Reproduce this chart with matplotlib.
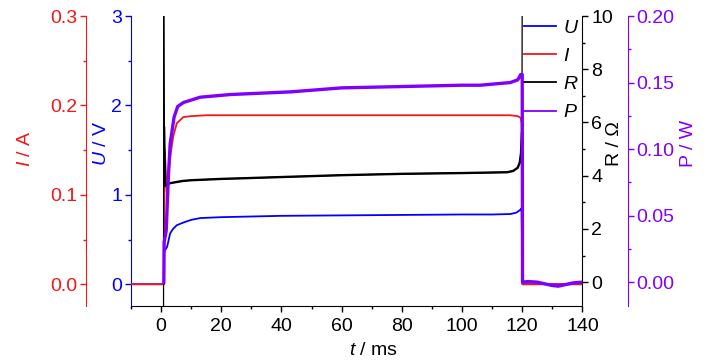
# U, I, R, P vs time for a pulse (0 to 120 ms)

import matplotlib
matplotlib.use("Agg")
import matplotlib.pyplot as plt
from matplotlib.lines import Line2D
from matplotlib.ticker import MultipleLocator

plt.rcParams['font.family'] = ['Liberation Sans', 'DejaVu Sans']
plt.rcParams['mathtext.fontset'] = 'custom'
plt.rcParams['mathtext.it'] = 'Liberation Sans:italic'
plt.rcParams['mathtext.rm'] = 'Liberation Sans'

# data
t_U = [-10, 0.9, 1.0, 1.3, 2, 3, 4, 5.2, 7.4, 10, 13, 20, 40, 60, 80, 100, 110, 116, 118, 119.3, 119.8, 120.1, 140]
U = [0, 0, 0.36, 0.38, 0.42, 0.57, 0.62, 0.66, 0.69, 0.72, 0.74, 0.75, 0.765, 0.77, 0.775, 0.78, 0.78, 0.785, 0.80, 0.83, 0.85, 0, 0]

t_I = [-10, 0.9, 1.2, 1.9, 3.0, 4, 5.2, 7.4, 10, 15, 40, 80, 116, 118.5, 119.5, 119.8, 120.1, 140]
I = [0, 0, 0.15, 0.103, 0.142, 0.165, 0.18, 0.187, 0.188, 0.189, 0.189, 0.189, 0.189, 0.188, 0.186, 0.18, 0, 0]

t_R = [0.8, 0.85, 1.0, 1.3, 2, 3, 7, 10, 20, 26, 40, 60, 80, 100, 110, 115, 117, 118.5, 119.2, 119.6, 119.9, 120]
R = [-1.5, 11, 5.8, 3.62, 3.68, 3.72, 3.8, 3.83, 3.88, 3.9, 3.95, 4.02, 4.07, 4.1, 4.12, 4.13, 4.18, 4.3, 4.5, 4.85, 5.6, 11]

t_P = [0.9, 1.0, 1.7, 2.4, 3, 4.3, 5.5, 7.4, 13, 23, 43, 60, 80, 100, 106, 116, 118.5, 119.5, 120, 120.1,
       122, 125, 128, 130, 132, 134, 137, 140]
P = [0, 0.03, 0.039, 0.079, 0.104, 0.124, 0.132, 0.135, 0.139, 0.141, 0.143, 0.146, 0.147, 0.148, 0.148, 0.150, 0.152, 0.156, 0.156, 0,
     0.0005, 0.0, -0.0015, -0.0025, -0.003, -0.002, -0.0005, 0]

red = '#f01818'
blue = '#0000ff'
purple = '#8000ff'

fig = plt.figure(figsize=(7.28, 3.64), dpi=100)
ax = fig.add_axes([0.180, 0.159, 0.620, 0.797])   # U axis + time axis
axI = ax.twinx()
axR = ax.twinx()
axP = ax.twinx()

ax.plot(t_U, U, color=blue, lw=1.3)
axI.plot(t_I, I, color=red, lw=1.3)
# the spikes of R at switching are thin, the rest thicker
axR.plot(t_R, R, color='black', lw=0.9)
axR.plot(t_R[2:-1], R[2:-1], color='black', lw=1.7)
axP.plot(t_P, P, color=purple, lw=2.4)

ax.set_xlim(-10, 140)
ax.set_ylim(-0.245, 3)
axI.set_ylim(-0.0245, 0.3)
axR.set_ylim(-0.9, 10)
axP.set_ylim(-0.018, 0.2)

fs = 14

# left side axes
ax.spines['top'].set_visible(False)
ax.spines['right'].set_visible(False)
ax.spines['left'].set_color(blue)
ax.yaxis.set_major_locator(MultipleLocator(1))
ax.yaxis.set_minor_locator(MultipleLocator(0.5))
ax.tick_params(axis='y', which='both', colors=blue, labelsize=fs, pad=2)

axI.spines['left'].set_position(('axes', -0.1))
axI.spines['left'].set_visible(True)
axI.spines['left'].set_color(red)
for s in ['top', 'right', 'bottom']:
    axI.spines[s].set_visible(False)
axI.yaxis.set_ticks_position('left')
axI.yaxis.set_label_position('left')
axI.yaxis.set_major_locator(MultipleLocator(0.1))
axI.yaxis.set_minor_locator(MultipleLocator(0.05))
axI.yaxis.set_major_formatter(lambda v, p: f"{v:.1f}")
axI.tick_params(axis='y', which='both', colors=red, labelsize=fs, pad=2)

# right side axes
for s in ['top', 'left', 'bottom']:
    axR.spines[s].set_visible(False)
axR.yaxis.set_major_locator(MultipleLocator(2))
axR.yaxis.set_minor_locator(MultipleLocator(1))
axR.tick_params(axis='y', which='both', colors='black', labelsize=fs, pad=2)

axP.spines['right'].set_position(('axes', 1.1))
axP.spines['right'].set_color(purple)
for s in ['top', 'left', 'bottom']:
    axP.spines[s].set_visible(False)
axP.yaxis.set_major_locator(MultipleLocator(0.05))
axP.yaxis.set_minor_locator(MultipleLocator(0.025))
axP.yaxis.set_major_formatter(lambda v, p: f"{v:.2f}")
axP.tick_params(axis='y', which='both', colors=purple, labelsize=fs, pad=2)

# time axis
ax.xaxis.set_major_locator(MultipleLocator(20))
ax.xaxis.set_minor_locator(MultipleLocator(10))
ax.tick_params(axis='x', which='both', labelsize=fs, pad=4)
for a in [ax, axI, axR, axP]:
    a.tick_params(which='major', length=4.5, width=1)
    a.tick_params(which='minor', length=2.5, width=1)

# axis labels
ax.set_xlabel(r"$t$ / ms", fontsize=fs)
ax.xaxis.set_label_coords(0.537, -0.152)
ax.xaxis.label.set_va('center')

ax.set_ylabel(r"$U$ / V", fontsize=fs, color=blue)
axI.set_ylabel(r"$I$ / A", fontsize=fs, color=red)
axR.set_ylabel("R / Ω", fontsize=fs, color='black', rotation=90)
axP.set_ylabel("P / W", fontsize=fs, color=purple, rotation=90)
ax.yaxis.set_label_coords(-0.0665, 0.562)
axI.yaxis.set_label_coords(-0.233, 0.541)
axR.yaxis.set_label_coords(1.071, 0.559)
axP.yaxis.set_label_coords(1.235, 0.562)
for a in [ax, axI, axR, axP]:
    a.yaxis.label.set_va('center')
    a.yaxis.label.set_ha('center')

# legend
handles = [Line2D([], [], color=blue, lw=1.3),
           Line2D([], [], color=red, lw=1.3),
           Line2D([], [], color='black', lw=1.3),
           Line2D([], [], color=purple, lw=1.3)]
labels = [r"$U$", r"$I$", r"$R$", r"$P$"]
axP.legend(handles, labels, loc='upper left', bbox_to_anchor=(0.72, 0.948),
           bbox_transform=fig.transFigure, frameon=False, fontsize=fs,
           borderpad=0, borderaxespad=0, handlelength=1.65, handletextpad=0.35,
           labelspacing=0.55)

plt.savefig("out.png", dpi=100)
